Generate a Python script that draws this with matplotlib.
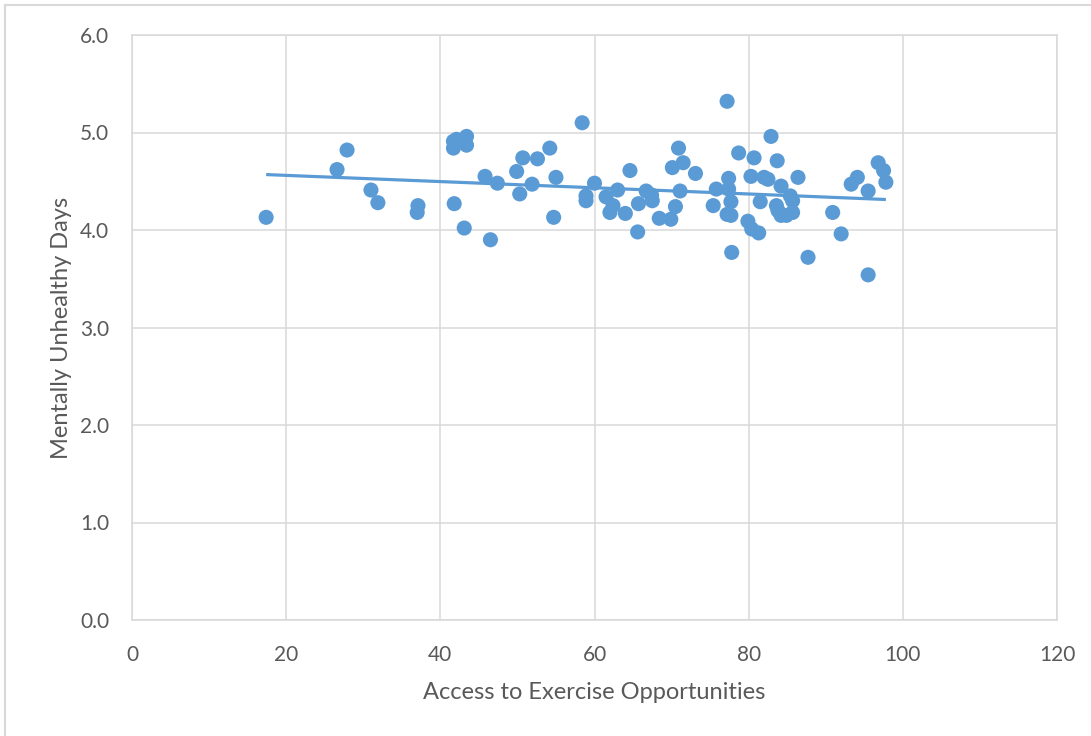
import numpy as np
import matplotlib
matplotlib.use("Agg")
import matplotlib.pyplot as plt
from matplotlib.lines import Line2D

# Access to exercise opportunities (%) vs. mentally unhealthy days
access = [
    17.4, 26.6, 27.9, 31.0, 31.9, 37.1, 37.0, 41.7, 42.1, 43.4,
    43.4, 41.7, 41.8, 43.1, 45.8, 47.4, 46.5, 50.7, 49.9, 50.3,
    51.9, 52.6, 54.2, 55.0, 54.7, 58.4, 60.0, 58.9, 58.9, 64.6,
    63.0, 61.5, 62.4, 62.0, 64.0, 65.6, 66.7, 65.7, 67.5, 67.4,
    68.4, 69.9, 70.5, 71.1, 70.1, 70.9, 71.5, 73.1, 75.4, 75.8,
    77.2, 77.4, 77.4, 77.7, 77.2, 77.7, 77.8, 78.7, 80.7, 80.3,
    81.5, 79.9, 80.4, 81.3, 82.9, 83.7, 82.0, 82.5, 84.2, 86.4,
    85.4, 85.7, 83.6, 83.8, 84.2, 84.9, 85.7, 87.7, 90.9, 92.0,
    95.5, 93.3, 94.1, 95.5, 96.8, 97.5, 97.8,
]
unhealthy_days = [
    4.13, 4.62, 4.82, 4.41, 4.28, 4.25, 4.18, 4.91, 4.93, 4.96,
    4.87, 4.84, 4.27, 4.02, 4.55, 4.48, 3.90, 4.74, 4.60, 4.37,
    4.47, 4.73, 4.84, 4.54, 4.13, 5.10, 4.48, 4.35, 4.30, 4.61,
    4.41, 4.34, 4.25, 4.18, 4.17, 3.98, 4.40, 4.27, 4.30, 4.36,
    4.12, 4.11, 4.24, 4.40, 4.64, 4.84, 4.69, 4.58, 4.25, 4.42,
    5.32, 4.53, 4.42, 4.29, 4.16, 4.15, 3.77, 4.79, 4.74, 4.55,
    4.29, 4.09, 4.01, 3.97, 4.96, 4.71, 4.54, 4.52, 4.45, 4.54,
    4.35, 4.30, 4.25, 4.20, 4.15, 4.15, 4.18, 3.72, 4.18, 3.96,
    3.54, 4.47, 4.54, 4.40, 4.69, 4.61, 4.49,
]

x_ticks = [0, 20, 40, 60, 80, 100, 120]
y_ticks = [0.0, 1.0, 2.0, 3.0, 4.0, 5.0, 6.0]

BLUE = "#5B9BD5"
GRID = "#D9D9D9"
TEXT = "#595959"

plt.rcParams["font.family"] = ["Lato", "DejaVu Sans"]

W, H = 1091, 736
fig = plt.figure(figsize=(W / 100, H / 100), dpi=100)
fig.patch.set_facecolor("white")

# chart-area outline (left and top edges)
fig.add_artist(Line2D([5 / W, 5 / W], [0, 1 - 5 / H], transform=fig.transFigure,
                      color=GRID, lw=1.5))
fig.add_artist(Line2D([5 / W, 1], [1 - 5 / H, 1 - 5 / H], transform=fig.transFigure,
                      color=GRID, lw=1.5))

ax = fig.add_axes([132 / W, 1 - 620 / H, (1057 - 132) / W, (620 - 35) / H])
ax.set_xlim(0, 120)
ax.set_ylim(0, 6)
ax.set_xticks(x_ticks)
ax.set_yticks(y_ticks)
ax.set_xticklabels([str(t) for t in x_ticks])
ax.set_yticklabels([f"{t:.1f}" for t in y_ticks])
ax.grid(True, color=GRID, lw=1.1)
ax.set_axisbelow(True)
for s in ax.spines.values():
    s.set_color(GRID)
    s.set_linewidth(1.1)
ax.tick_params(length=0, labelsize=15, labelcolor=TEXT)
ax.tick_params(axis="y", pad=16.5)
ax.tick_params(axis="x", pad=18)

xs = np.array(access)
ys = np.array(unhealthy_days)
ax.scatter(xs, ys, s=118, color=BLUE, edgecolors="none", zorder=3)

# linear trendline
slope, intercept = np.polyfit(xs, ys, 1)
xl = np.array([xs.min(), xs.max()])
ax.plot(xl, slope * xl + intercept, color=BLUE, lw=2.3, zorder=4,
        solid_capstyle="butt")

ax.set_xlabel("Access to Exercise Opportunities", fontsize=17, color=TEXT,
              labelpad=12)
ax.set_ylabel("Mentally Unhealthy Days", fontsize=17, color=TEXT, labelpad=6)

fig.savefig("out.png", dpi=100, facecolor="white")
